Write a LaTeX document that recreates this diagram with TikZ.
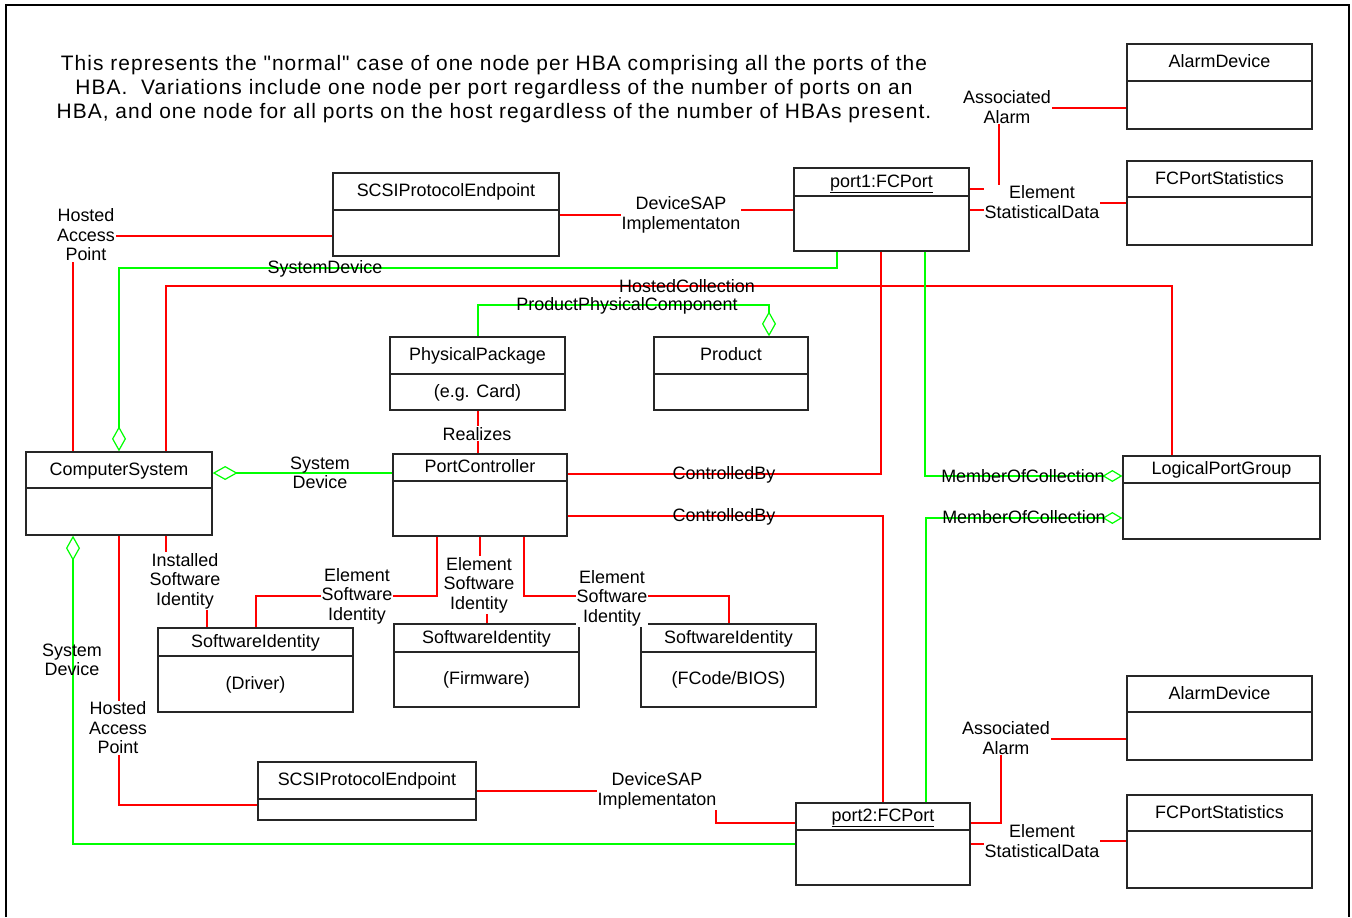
\documentclass[tikz,border=0pt]{standalone}
\usepackage{fontspec}
\setmainfont{Liberation Sans}
\newfontfamily\notefont[LetterSpace=5]{Liberation Sans}
\usetikzlibrary{arrows.meta,fit}
\begin{document}
\begin{tikzpicture}[x=1bp,y=-1bp,line width=1.2bp,
  box/.style={draw=black!85,line width=1.3bp,inner sep=0pt},
  rel/.style={red},
  agg/.style={green},
  lbl/.style={font=\fontsize{18}{19.5}\selectfont,align=center,inner sep=1pt},
  cut/.style={lbl,fill=white},
  dia/.style={-{Diamond[open,length=25bp,width=14bp]}},
  diar/.style={{Diamond[open,length=25bp,width=14bp]}-},
  dias/.style={-{Diamond[open,length=20bp,width=12bp]}}]
\useasboundingbox (0,0) rectangle (1352,917);
\draw[line width=2bp] (6,917) -- (6,5) -- (1349,5) -- (1349,917);
\node[font=\notefont\fontsize{21}{24.5}\selectfont,align=center] (note) at (494,89)
  {This represents the \symbol{34}normal\symbol{34} case of one node per HBA comprising all the ports of the\\
   HBA.\ \ Variations include one node per port regardless of the number of ports on an\\
   HBA, and one node for all ports on the host regardless of the number of HBAs present.};
% classes
\foreach \nm/\xa/\ya/\xb/\yb/\yd/\ttl/\bdy in {
  alarmA/1127/44/1312/129/81/AlarmDevice/{},
  statsA/1127/161/1312/245/197/FCPortStatistics/{},
  port1/794/168/969/251/196/{\underline{port1:FCPort}}/{},
  sepA/333/173/559/256/210/SCSIProtocolEndpoint/{},
  pkg/390/337/565/410/374/PhysicalPackage/{(e.g. Card)},
  product/654/337/808/410/374/Product/{},
  compsys/26/452/212/535/488/ComputerSystem/{},
  portctl/393/454/567/536/481/PortController/{},
  lpg/1123/456/1320/539/483/LogicalPortGroup/{},
  swDrv/158/628/353/712/656/SoftwareIdentity/{(Driver)},
  swFw/394/624/579/707/652/SoftwareIdentity/{(Firmware)},
  swBios/641/624/816/707/652/SoftwareIdentity/{(FCode/BIOS)},
  sepB/258/762/476/820/799/SCSIProtocolEndpoint/{},
  port2/796/803/970/885/830/{\underline{port2:FCPort}}/{},
  alarmB/1127/676/1312/760/712/AlarmDevice/{},
  statsB/1127/795/1312/888/831/FCPortStatistics/{}}{
  \node[box,fit={(\xa,\ya) (\xb,\yb)}] (\nm) {};
  \draw[box] (\xa,\yd) -- (\xb,\yd);
  \node[lbl,anchor=base] (\nm-t) at ({(\xa+\xb)/2},{(\ya+\yd)/2+5}) {\ttl};
  \node[lbl,anchor=base] (\nm-b) at ({(\xa+\xb)/2},{(\yd+\yb)/2+5}) {\bdy};
}
% associations
\draw[rel] (port1.east |- 0,189) -| (999,108) -- (alarmA.west |- 0,108);
\draw[rel] (port1.east |- 0,210) -- (1042,210) -- (1042,203) -- (statsA.west |- 0,203);
\draw[rel] (sepA.east |- 0,215) -- (681,215) -- (681,210) -- (port1.west |- 0,210);
\draw[rel] (compsys.north -| 73,0) -- (73,236) -- (sepA.west |- 0,236);
\draw[agg,dia] (port1.south -| 837,0) |- (119,268) -- (compsys.north -| 119,0);
\draw[rel] (compsys.north -| 166,0) |- (1172,286) -- (lpg.north -| 1172,0);
\draw[agg,dia] (pkg.north -| 478,0) |- (769,305) -- (product.north -| 769,0);
\draw[rel] (port1.south -| 881,0) |- (portctl.east |- 0,474);
\draw[agg,dias] (port1.south -| 925,0) |- (lpg.west |- 0,476);
\draw[rel] (portctl.east |- 0,516) -| (port2.north -| 883,0);
\draw[agg,dias] (port2.north -| 926,0) |- (lpg.west |- 0,518);
\draw[agg,dia] (portctl.west |- 0,473) -- (compsys.east |- 0,473);
\draw[agg,diar] (compsys.south -| 73,0) -- (73,844) -- (port2.west |- 0,844);
\draw[rel] (compsys.south -| 119,0) |- (sepB.west |- 0,805);
\draw[rel] (sepB.east |- 0,791) -- (716,791) |- (port2.west |- 0,823);
\draw[rel] (port2.east |- 0,823) -| (1001,739) -- (alarmB.west |- 0,739);
\draw[rel] (port2.east |- 0,844) -- (1042,844) -- (1042,841) -- (statsB.west |- 0,841);
\draw[rel] (pkg.south -| 478,0) -- (portctl.north -| 478,0);
\draw[rel] (compsys.south -| 166,0) -- (166,580) -- (207,580) -- (swDrv.north -| 207,0);
\draw[rel] (portctl.south -| 437,0) |- (256,596) -- (swDrv.north -| 256,0);
\draw[rel] (portctl.south -| 480,0) -- (480,584) -- (487,584) -- (swFw.north -| 487,0);
\draw[rel] (portctl.south -| 524,0) |- (729,596) -- (swBios.north -| 729,0);
% labels
\node[cut] (lAlarmA) at (1007,107) {Associated\\Alarm};
\node[cut] (lStatA) at (1042,202) {Element\\StatisticalData};
\node[cut] (lSapA) at (681,215) {DeviceSAP\\Implementaton};
\node[cut] (lHapA) at (86,235) {Hosted\\Access\\Point};
\node[lbl,anchor=base] (lSysDevA) at (325,273) {SystemDevice};
\node[lbl,anchor=base] (lHostCol) at (687,292) {HostedCollection};
\node[lbl,anchor=base] (lPpc) at (627,310) {ProductPhysicalComponent};
\node[cut,anchor=base] (lReal) at (477,440) {Realizes};
\node[lbl] (lSysDevB) at (320,473) {System\\Device};
\node[lbl,anchor=base] (lCtlA) at (724,479) {ControlledBy};
\node[lbl,anchor=base] (lCtlB) at (724,521) {ControlledBy};
\node[lbl,anchor=base] (lMocA) at (1023,482) {MemberOfCollection};
\node[lbl,anchor=base] (lMocB) at (1024,523) {MemberOfCollection};
\node[cut] (lInst) at (185,581) {Installed\\Software\\Identity};
\node[cut] (lEsiDrv) at (357,596) {Element\\Software\\Identity};
\node[cut] (lEsiFw) at (479,585) {Element\\Software\\Identity};
\node[cut] (lEsiBios) at (612,598) {Element\\Software\\Identity};
\node[lbl] (lSysDevC) at (72,660) {System\\Device};
\node[cut] (lHapB) at (118,728) {Hosted\\Access\\Point};
\node[cut] (lSapB) at (657,791) {DeviceSAP\\Implementaton};
\node[cut] (lAlarmB) at (1006,738) {Associated\\Alarm};
\node[cut] (lStatB) at (1042,841) {Element\\StatisticalData};
\end{tikzpicture}
\end{document}
